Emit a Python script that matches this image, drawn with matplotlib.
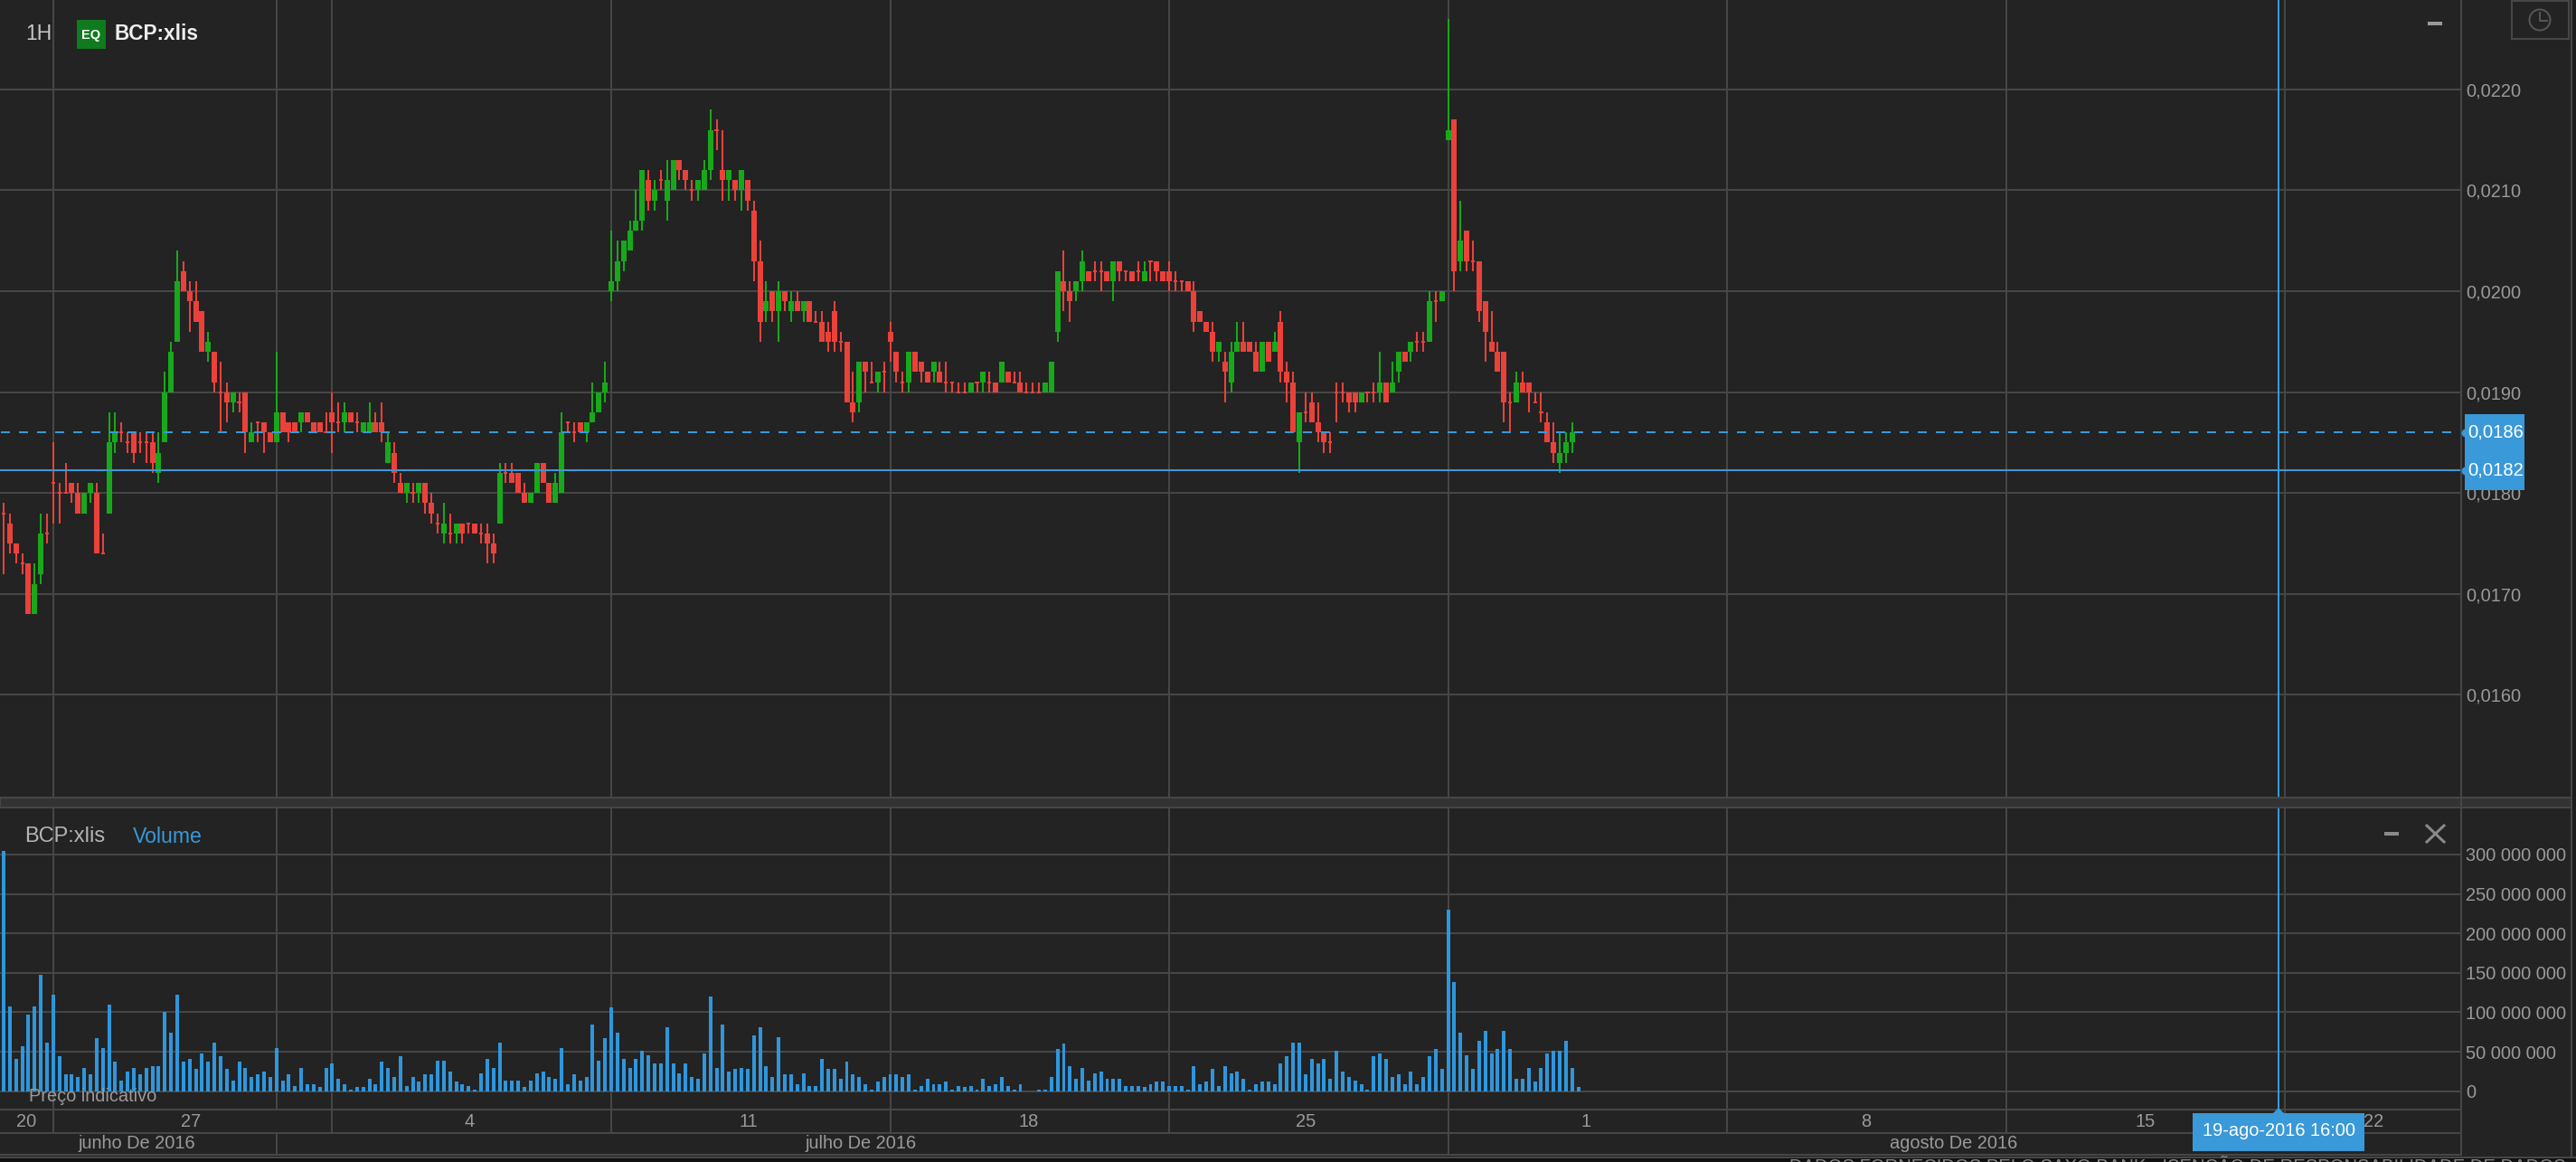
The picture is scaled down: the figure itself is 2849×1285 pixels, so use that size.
import matplotlib
matplotlib.use("Agg")
import matplotlib.pyplot as plt
import numpy as np
from matplotlib.patches import Circle, Polygon, Rectangle

plt.rcParams['font.family'] = ['Liberation Sans', 'DejaVu Sans']

# hourly candles, prices in units of 0.0001
opens = [178,177,175,173,173,168,172,176,181,180, 180,181,180,178,180,180,174,178,185,186,
         185,186,185,185,185,182,185,190,195,202, 200,199,198,194,194,190,190,189,189,190,
         185,187,187,186,185,188,187,187,187,188, 187,187,186,188,187,187,188,187,186,186,
         187,187,183,184,181,180,180,180,181,179, 177,176,176,176,177,177,177,176,176,175,
         177,182,182,182,180,179,180,183,181,179, 180,187,186,187,186,187,188,190,200,201,
         203,204,206,207,211,209,211,209,210,213, 212,210,210,210,212,216,212,211,211,210,
         211,208,203,198,200,198,200,198,199,198, 199,197,197,196,198,195,195,189,189,193,
         191,191,192,196,194,191,191,194,193,192, 192,192,191,191,190,190,190,191,191,191,
         191,191,192,191,191,190,190,190,190,190, 196,201,200,200,201,202,202,202,202,201,
         203,202,202,202,201,203,203,202,202,201, 201,201,200,198,197,196,194,193,191,194,
         195,195,194,192,195,194,197,192,191,185, 188,189,187,186,185,190,190,190,190,189,
         190,190,190,191,190,192,194,194,195,195, 195,199,199,215,217,203,206,203,203,199,
         195,194,194,189,189,191,191,189,188,187, 185,183,184,185]
highs = [179,178,175,174,173,173,178,178,185,181, 183,181,181,180,181,181,176,188,188,187,
         186,186,186,186,186,186,192,195,204,203, 201,201,198,196,194,193,191,190,190,190,
         187,187,187,186,194,188,187,187,188,188, 187,187,188,190,189,189,188,188,187,189,
         188,189,186,185,182,181,181,181,181,180, 178,179,178,177,177,177,177,177,177,176,
         183,183,183,182,181,180,183,183,181,182, 188,187,187,187,187,191,190,193,206,205,
         205,207,210,212,212,211,212,213,213,213, 212,211,211,213,218,217,216,212,211,212,
         211,209,205,201,200,201,200,200,200,199, 199,198,198,197,199,196,195,192,193,193,
         193,192,193,197,194,192,194,194,193,192, 193,193,193,191,191,191,191,191,192,192,
         191,193,192,192,192,191,191,191,191,193, 202,204,201,201,204,202,203,203,202,203,
         203,202,202,203,203,203,203,202,203,202, 201,201,201,198,197,197,195,194,195,197,
         197,195,195,195,195,196,198,193,192,188, 190,190,189,186,186,191,191,190,190,190,
         190,191,194,191,193,194,194,195,196,196, 200,200,200,227,217,209,206,205,203,199,
         198,195,194,190,192,192,191,190,190,188, 187,186,186,187]
lows = [172,174,173,172,168,168,171,175,177,177, 180,179,178,178,179,174,174,178,184,185,
        184,183,184,183,182,181,185,190,195,200, 196,197,194,193,190,186,187,188,188,184,
        185,185,184,185,185,186,185,186,186,187, 186,186,186,184,186,186,187,186,186,186,
        186,185,183,181,180,179,179,179,178,177, 176,175,175,175,175,176,176,175,173,173,
        177,181,181,180,179,179,180,181,179,179, 180,186,185,186,185,187,188,189,199,200,
        202,204,206,206,208,208,210,207,210,211, 210,209,209,210,211,214,209,209,209,208,
        208,201,195,197,197,195,198,197,198,197, 197,197,195,194,194,194,189,187,188,190,
        191,190,190,193,191,190,190,192,191,191, 191,191,190,190,190,190,190,190,190,190,
        190,191,191,191,190,190,190,190,190,190, 195,198,197,199,200,201,201,200,201,199,
        201,201,201,201,201,201,201,201,200,200, 200,200,196,197,196,193,193,189,190,194,
        194,194,192,192,193,194,191,189,186,182, 187,187,185,184,184,187,189,188,188,189,
        189,189,189,189,190,191,193,193,194,194, 195,197,199,215,200,202,202,202,197,193,
        194,192,187,186,189,190,188,189,187,185, 183,182,183,184]
closes = [178,175,174,173,168,171,176,176,181,180, 180,180,178,180,181,174,174,185,186,186,
          185,184,185,185,183,184,190,194,201,200, 199,197,194,195,191,190,189,190,189,186,
          186,187,186,185,188,186,186,186,188,187, 186,186,186,187,187,188,187,187,187,187,
          186,186,185,182,180,181,180,181,179,178, 177,177,176,177,176,177,176,176,175,174,
          182,182,181,180,179,180,183,181,179,181, 186,187,186,186,187,188,190,191,201,203,
          205,206,207,212,209,210,211,211,213,212, 211,210,211,212,216,216,211,212,210,212,
          209,203,197,199,198,200,199,199,198,199, 197,197,195,195,195,195,189,188,193,192,
          191,192,192,195,192,191,194,192,192,191, 193,191,191,191,190,190,191,191,192,191,
          190,193,191,191,190,190,190,190,191,193, 202,200,199,201,203,201,202,202,201,203,
          202,202,201,202,202,203,202,201,201,201, 201,200,197,197,196,194,195,192,194,195,
          194,194,192,195,193,195,192,191,186,188, 188,187,186,185,185,190,190,189,189,190,
          190,190,191,189,191,194,193,195,195,195, 199,199,200,216,202,205,203,203,198,196,
          194,192,189,189,191,190,190,189,188,185, 184,184,185,186]
# volume per bar, in millions
volumes = [305,108,41,57,97,108,147,62,122,44, 21,21,18,30,21,67,55,110,37,14,
           25,30,21,30,32,32,101,74,122,37, 41,28,48,37,62,44,28,14,37,30,
           18,21,25,18,55,14,21,7,30,9, 9,5,30,35,16,9,2.5,5,5,16,
           9,37,30,18,44,7,18,12,21,21, 39,39,25,12,9,7,2.5,23,41,30,
           62,14,14,14,5,14,23,25,18,16, 55,9,21,14,18,85,39,67,106,74,
           41,30,41,51,46,35,35,81,35,23, 35,18,16,48,120,30,85,25,28,30,
           28,71,81,32,18,69,21,21,9,23, 7,7,41,28,28,16,37,21,18,9,
           2.5,12,18,21,21,18,21,2.5,7,16, 9,9,12,2.5,7,5,7,2.5,16,7,
           9,18,7,2.5,9,0,0,2.5,2.5,18, 53,60,32,16,30,14,23,25,16,16,
           16,7,7,7,5,9,12,12,7,7, 7,2.5,32,9,12,28,7,32,23,25,
           16,2.5,9,12,12,9,35,44,62,62, 21,41,35,41,16,51,25,18,14,9,
           2.5,44,48,41,18,21,9,25,9,18, 44,53,28,230,138,74,46,28,64,76,
           48,53,76,53,16,16,30,12,30,48, 51,51,64,30,5]

price_ticks = [0.0160, 0.0170, 0.0180, 0.0190, 0.0200, 0.0210, 0.0220]
volume_ticks = [0, 50e6, 100e6, 150e6, 200e6, 250e6, 300e6]
last_price = 0.0186
cursor_price = 0.01823
cursor_bar = 367
cursor_label = "19-ago-2016 16:00"
week_bars = [8, 53, 98, 143, 188, 233, 278, 323, 368]
month_bars = [44, 233]
day_labels = ["20", "27", "4", "11", "18", "25", "1", "8", "15", "22"]
day_label_bars = [3.6, 30.2, 75.2, 120.2, 165.4, 210, 255.2, 300.4, 345.5, 382.3]
month_labels = ["junho De 2016", "julho De 2016", "agosto De 2016"]
month_label_bars = [21.5, 138.3, 314.5]

W, H = 2849, 1285
BG = "#232323"
GRID = "#464646"
TEXT = "#9a9a9a"
BLUE = "#3a99d8"
RED = "#ea413b"
GREEN = "#18a81b"
PX = 0.72  # one pixel in points at dpi 100


def panel(top, bottom, right=2722):
    return fig.add_axes([0, 1 - bottom / H, right / W, (bottom - top) / H])


fig = plt.figure(figsize=(W / 100, H / 100), dpi=100, facecolor="#1c1c1c")

# backdrop behind the panels, the y tick labels sit on it
back = fig.add_axes([0, 0, 1, 1], zorder=-1)
back.set_xlim(0, W)
back.set_ylim(H, 0)
back.axis("off")
back.add_patch(Rectangle((0, 0), 2844, 1280, fc=BG, ec="none"))
back.add_patch(Rectangle((0, 1280), W, 5, fc="#111111", ec="none"))

opens_p = np.array(opens) / 1e4
highs_p = np.array(highs) / 1e4
lows_p = np.array(lows) / 1e4
closes_p = np.array(closes) / 1e4
bars = np.arange(len(opens))
xlim = (-0.583, 396.4)

# price panel
ax = panel(0, 882)
ax.set_facecolor(BG)
ax.set_xlim(xlim)
ax.set_ylim(0.014983, 0.022886)
ax.set_yticks(price_ticks)
ax.set_yticklabels([f"{v:.4f}".replace(".", ",") for v in price_ticks])
ax.set_xticks(week_bars + [44])
ax.set_xticklabels([])
ax.grid(True, color=GRID, lw=2 * PX)
ax.set_axisbelow(True)

up = closes_p > opens_p
colors = np.where(up, GREEN, RED)
ax.vlines(bars, lows_p, highs_p, colors=colors, lw=2 * PX, zorder=3)
flat = closes_p == opens_p
ax.bar(bars[~flat], np.abs(closes_p - opens_p)[~flat], bottom=np.minimum(opens_p, closes_p)[~flat],
       width=0.875, color=colors[~flat], zorder=4)
ax.hlines(closes_p[flat], bars[flat] - 0.3, bars[flat] + 0.3, colors=colors[flat], lw=2 * PX, zorder=4)

ax.axhline(cursor_price, color=BLUE, lw=2 * PX, zorder=5)
ax.plot([-0.5, 394.8], [last_price, last_price], color=BLUE, lw=2 * PX,
        ls=(0, (5, 5)), dash_capstyle="butt", zorder=5)
ax.axvline(cursor_bar, color=BLUE, lw=2 * PX, zorder=5)

# volume panel
vol = panel(893, 1226.7)
vol.set_facecolor(BG)
vol.set_xlim(xlim)
vol.set_ylim(-22.9e6, 359.6e6)
vol.set_yticks(volume_ticks)
vol.set_yticklabels([f"{v:,.0f}".replace(",", " ") for v in volume_ticks])
vol.set_xticks(week_bars + [44])
vol.set_xticklabels([])
vol.grid(True, color=GRID, lw=2 * PX)
vol.set_axisbelow(True)
vol.bar(np.arange(len(volumes)), np.array(volumes) * 1e6, width=0.58, color="#2f96dc", zorder=3)
vol.axvline(cursor_bar, color=BLUE, lw=2 * PX, zorder=5)

for a in (ax, vol):
    a.yaxis.tick_right()
    a.tick_params(axis="y", length=0, pad=3.6, labelsize=14.4, labelcolor=TEXT)
    a.tick_params(axis="x", length=0)
    for s in a.spines.values():
        s.set_visible(False)

# date strips
days = panel(1226.7, 1252.7)
months = panel(1252.7, 1276.7)
for a in (days, months):
    a.set_facecolor(BG)
    a.set_xlim(xlim)
    a.set_ylim(0, 1)
    a.set_yticks([])
    a.tick_params(axis="x", length=0, labelbottom=False)
    for s in a.spines.values():
        s.set_visible(False)
days.set_xticks(week_bars)
months.set_xticks(month_bars)
days.grid(True, axis="x", color=GRID, lw=2 * PX)
months.grid(True, axis="x", color=GRID, lw=2 * PX)
for lab, b in zip(day_labels, day_label_bars):
    days.text(b, 0.46, lab, color=TEXT, fontsize=14.4, ha="center", va="center")
for lab, b in zip(month_labels, month_label_bars):
    months.text(b, 0.5, lab, color=TEXT, fontsize=14.4, ha="center", va="center")

# window furniture, in pixels
ui = fig.add_axes([0, 0, 1, 1], zorder=10)
ui.set_xlim(0, W)
ui.set_ylim(H, 0)
ui.axis("off")

ui.add_patch(Rectangle((0, 882), 2844, 11, fc="#333333", ec=GRID, lw=2 * PX, zorder=6))
for y in (1226.7, 1252.7, 1276.7):
    ui.plot([1, 2722], [y, y], color=GRID, lw=2 * PX, zorder=2)
ui.plot([0, W], [1280, 1280], color=GRID, lw=2 * PX, zorder=2)
ui.plot([2722, 2722], [0, 1277], color=GRID, lw=2 * PX, zorder=7)
ui.plot([2844, 2844], [0, 1280], color=GRID, lw=2 * PX, zorder=7)

# header texts
ui.text(28, 38, "1H", color="#c8c8c8", fontsize=16.5, va="center")
ui.add_patch(Rectangle((85, 22), 32, 32, fc="#0f7a1e", ec="none"))
ui.text(101, 38.5, "EQ", color="white", fontsize=10.5, fontweight="bold", ha="center", va="center")
ui.text(127, 38, "BCP:xlis", color="#eeeeee", fontsize=16.3, fontweight="bold", va="center")
ui.text(27, 925, "BCP:xlis", color="#b4b4b4", fontsize=17, va="center")
ui.text(147, 925, "Volume", color=BLUE, fontsize=16.6, va="center")
ui.text(32, 1213, "Preço indicativo", color=TEXT, fontsize=14.4, va="center")

# panel buttons
ui.plot([2685, 2701], [25.7, 25.7], color="#9a9a9a", lw=4 * PX, solid_capstyle="butt")
ui.plot([2637, 2653], [922, 922], color="#8a8a8a", lw=4 * PX, solid_capstyle="butt")
ui.plot([2684, 2703], [913, 931], color="#8a8a8a", lw=3 * PX)
ui.plot([2684, 2703], [931, 913], color="#8a8a8a", lw=3 * PX)
ui.add_patch(Rectangle((2778, 1), 63, 42, fc="none", ec=GRID, lw=2 * PX))
ui.add_patch(Circle((2809, 22), 11.5, fc="none", ec="#555555", lw=2 * PX))
ui.plot([2809, 2809, 2817], [14, 23, 23], color="#555555", lw=2 * PX)

# blue price tags
ui.add_patch(Rectangle((2726, 458), 66, 84, fc=BLUE, ec="none", zorder=8))
tag_y = {last_price: 478, cursor_price: 520}
for p, y in tag_y.items():
    ui.add_patch(Circle((2727, y + 1), 4.5, fc=BLUE, ec="none", zorder=8))
    ui.text(2729, y, f"{p:.4f}".replace(".", ","), color="white", fontsize=14.6, va="center", zorder=9)

# cursor date tag
ui.add_patch(Rectangle((2425, 1231), 190, 42, fc=BLUE, ec="none", zorder=8))
ui.add_patch(Polygon([[2513, 1232], [2520, 1225], [2527, 1232]], fc=BLUE, ec="none", zorder=8))
ui.text(2520, 1251, cursor_label, color="white", fontsize=14.4, ha="center", va="center", zorder=9)

# disclaimer cut off by the bottom of the window, only the top of the letters shows
ui.text(2838, 1296, "DADOS FORNECIDOS PELO SAXO BANK - ISENÇÃO DE RESPONSABILIDADE DE DADOS",
        color="#8a8a8a", fontsize=14.6, ha="right", va="baseline", zorder=9, clip_on=False)

fig.savefig("out.png", dpi=100, facecolor=fig.get_facecolor())
